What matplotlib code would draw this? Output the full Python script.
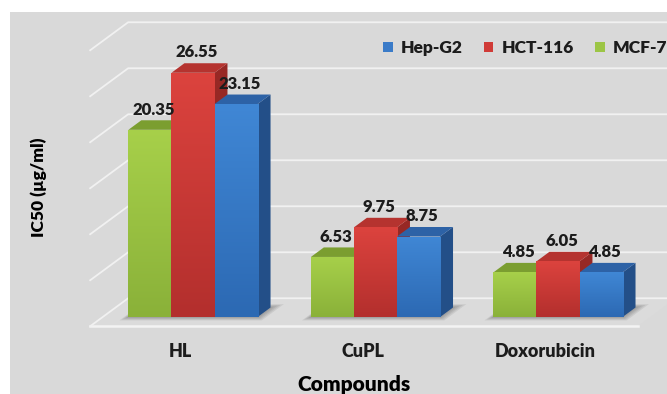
import numpy as np
import matplotlib.pyplot as plt
from matplotlib.patches import Polygon, Rectangle, Patch
from matplotlib.colors import LinearSegmentedColormap

# IC50 values (µg/ml) per compound and cell line
categories = ["HL", "CuPL", "Doxorubicin"]
mcf7 = [20.35, 6.53, 4.85]
hct116 = [26.55, 9.75, 6.05]
hepg2 = [23.15, 8.75, 4.85]
grid_values = [0, 5, 10, 15, 20, 25, 30]

# name, values, (front top, front bottom, top face, side face, legend)
series = [
    ("MCF-7", mcf7, ("#a7d04a", "#8ab139", "#7b9e30", "#6a8a29", "#9cc545")),
    ("HCT-116", hct116, ("#dc433e", "#b32f2d", "#b5332f", "#972825", "#d03b37")),
    ("Hep-G2", hepg2, ("#4087d5", "#2c69b3", "#2d62a6", "#234f88", "#3a7bc8")),
]
legend_order = [2, 1, 0]

TEXT = "#1c1c1c"
WEIGHT = "heavy"
plt.rcParams["font.family"] = ["Lato", "DejaVu Sans"]
plt.rcParams["font.weight"] = WEIGHT
plt.rcParams["text.color"] = TEXT

# fake 3D: one full floor depth moves a point by (DX, DY) in data units
DX, DY = 0.208, 3.04
T_FRONT, T_BACK = -0.33, 0.67   # floor front edge / back wall, relative to the bar fronts
BAR_DEPTH = 0.34
bar_w = 0.236
x_lo, x_hi = -0.495, 2.505


def shift(x, y, t):
    return (x + t * DX, y + t * DY)


fig = plt.figure(figsize=(6.67, 3.94), dpi=100)
fig.patch.set_facecolor("white")
fig.add_artist(Rectangle((10 / 667, 0), 1, 1 - 12 / 394, transform=fig.transFigure,
                         facecolor="#d9d9d9", edgecolor="none", zorder=-1))

ax = fig.add_axes([0.1526, 0.1954, 0.8208, 0.7005])
ax.set_facecolor("none")
for s in ax.spines.values():
    s.set_visible(False)

# floor
floor = [shift(x_lo, 0, T_FRONT), shift(x_hi, 0, T_FRONT),
         shift(x_hi, 0, T_BACK), shift(x_lo, 0, T_BACK)]
ax.add_patch(Polygon(floor, closed=True, facecolor="#dbdbdb", edgecolor="none",
                     zorder=1, clip_on=False))
ax.plot(*zip(shift(x_lo, 0, T_FRONT), shift(x_hi, 0, T_FRONT)),
        color="#f3f3f3", lw=1.8, zorder=1.5, clip_on=False)

# gridlines on the back wall plus the left-side diagonals
for g in grid_values:
    pts = [shift(x_lo, g, T_FRONT), shift(x_lo, g, T_BACK), shift(x_hi + 0.3, g, T_BACK)]
    ax.plot(*zip(*pts), color="#f1f1f1", lw=1.3, zorder=1.5, clip_on=False)

x = np.arange(len(categories))
n = len(series)

# soft shadows under each group of bars
for j in x:
    gx0 = j - bar_w * n / 2
    gx1 = j + bar_w * n / 2
    for k in range(1, 5):
        ex, et = 0.006 * k, 0.03 * k
        poly = [shift(gx0 - ex, 0, -et), shift(gx1 + ex * 2, 0, -et),
                shift(gx1 + ex * 2, 0, BAR_DEPTH + et), shift(gx0 - ex, 0, BAR_DEPTH + et)]
        ax.add_patch(Polygon(poly, closed=True, facecolor="black", alpha=0.07,
                             edgecolor="none", zorder=2, clip_on=False))

for i, (name, vals, cols) in enumerate(series):
    front_top, front_bot, top_c, side_c, _ = cols
    off = (i - (n - 1) / 2) * bar_w
    z = 4 + 2 * i
    for j, v in zip(x, vals):
        x0, x1 = j + off - bar_w / 2, j + off + bar_w / 2
        side = [shift(x1, 0, 0), shift(x1, v, 0), shift(x1, v, BAR_DEPTH), shift(x1, 0, BAR_DEPTH)]
        top = [shift(x0, v, 0), shift(x1, v, 0), shift(x1, v, BAR_DEPTH), shift(x0, v, BAR_DEPTH)]
        ax.add_patch(Polygon(side, closed=True, facecolor=side_c, edgecolor="none",
                             zorder=z - 1, clip_on=False))
        ax.add_patch(Polygon(top, closed=True, facecolor=top_c, edgecolor="none",
                             zorder=z - 1, clip_on=False))
        ax.text(j + off + 0.02, v + BAR_DEPTH * DY + 0.3, f"{v:.2f}", ha="center",
                va="bottom", fontsize=12, fontweight=WEIGHT, zorder=20)

    bars = ax.bar(x + off, vals, bar_w, color=front_bot, zorder=z)
    cmap = LinearSegmentedColormap.from_list(name, [front_bot, front_top])
    grad = np.linspace(1, 0, 256).reshape(-1, 1)
    for rect in bars:
        im = ax.imshow(grad, cmap=cmap, aspect="auto", zorder=z + 0.5,
                       extent=(rect.get_x(), rect.get_x() + rect.get_width(), 0, rect.get_height()))
        im.set_clip_path(rect)

ax.set_xlim(-0.5, 2.5)
ax.set_ylim(0, 30)

# category labels sit under the floor's front edge
ax.set_xticks(x + T_FRONT * DX, categories)
ax.set_yticks([])
ax.tick_params(axis="x", length=0, pad=19, labelsize=13, labelcolor=TEXT)

ax.set_xlabel("Compounds", fontsize=15, fontweight=WEIGHT)
ax.xaxis.set_label_coords(0.4607, -0.246)
ax.xaxis.label.set_va("center")
ax.set_ylabel("IC50 (µg/ml)", fontsize=12.5, fontweight=WEIGHT)
ax.yaxis.set_label_coords(-0.1146, 0.471)
ax.yaxis.label.set_va("center")

handles = [Patch(facecolor=series[k][2][4], edgecolor="none") for k in legend_order]
labels = [series[k][0] for k in legend_order]
ax.legend(handles, labels, ncol=3, loc="center left",
          bbox_to_anchor=(383 / 667, 1 - 48 / 394), bbox_transform=fig.transFigure,
          frameon=False, prop={"size": 12.5, "weight": WEIGHT},
          handlelength=0.55, handleheight=0.55, handletextpad=0.45,
          columnspacing=1.25, borderpad=0, borderaxespad=0)

fig.savefig("out.png", dpi=100)
